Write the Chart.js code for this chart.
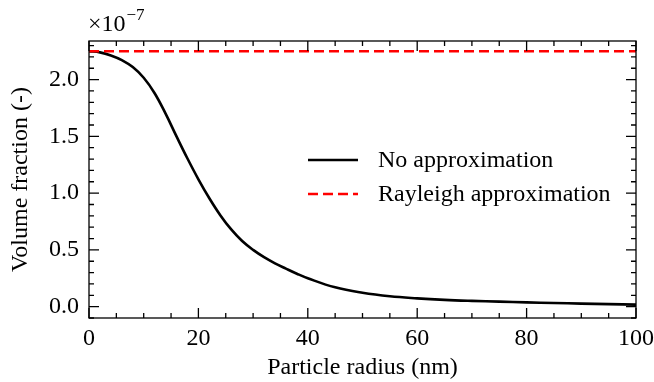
<!DOCTYPE html>
<html>
<head>
<meta charset="utf-8">
<script src="https://cdn.jsdelivr.net/npm/chart.js@4.4.1/dist/chart.umd.min.js"></script>
<style>
  html, body { margin: 0; padding: 0; background: #fff; }
  #wrap { width: 654px; height: 382px; }
</style>
</head>
<body>
<div id="wrap"><canvas id="chart" width="654" height="382"></canvas></div>
<script>
// particle radius (nm)
var radius = [0, 2, 4, 6, 8, 10, 12, 14, 16, 18, 20, 22, 24, 26, 28, 30, 32, 34, 36, 38, 40,
              45, 50, 55, 60, 65, 70, 75, 80, 85, 90, 95, 100];
// volume fraction, no approximation (x 1e-7)
var fracExact = [2.25, 2.24, 2.213, 2.172, 2.11, 2.016, 1.88, 1.70, 1.50, 1.305, 1.122, 0.955, 0.806,
                 0.68, 0.578, 0.50, 0.436, 0.382, 0.335, 0.29, 0.25,
                 0.17, 0.122, 0.091, 0.073, 0.060, 0.051, 0.044, 0.038, 0.032, 0.027, 0.022, 0.018];
// Rayleigh approximation (x 1e-7), flat
var rayleighRadius = [0, 100];
var fracRayleigh = [2.25, 2.25];

var xTicks = [0, 20, 40, 60, 80, 100];
var yTicks = [0.0, 0.5, 1.0, 1.5, 2.0];
var SCALE = 1e-7;

var FONT = "'Liberation Serif', 'DejaVu Serif', serif";

function pts(xs, ys) {
  return xs.map(function (x, i) { return { x: x, y: ys[i] * SCALE }; });
}

// inward ticks on all four sides + frame + custom legend + offset text
var decorations = {
  id: "decorations",
  afterDraw: function (chart) {
    var ctx = chart.ctx;
    var a = chart.chartArea;
    var sx = chart.scales.x, sy = chart.scales.y;
    ctx.save();
    ctx.strokeStyle = "#000";
    ctx.lineWidth = 1.3;

    function xtick(v, len) {
      var px = sx.getPixelForValue(v);
      ctx.beginPath();
      ctx.moveTo(px, a.bottom); ctx.lineTo(px, a.bottom - len);
      ctx.moveTo(px, a.top); ctx.lineTo(px, a.top + len);
      ctx.stroke();
    }
    function ytick(v, len) {
      var py = sy.getPixelForValue(v);
      ctx.beginPath();
      ctx.moveTo(a.left, py); ctx.lineTo(a.left + len, py);
      ctx.moveTo(a.right, py); ctx.lineTo(a.right - len, py);
      ctx.stroke();
    }
    for (var m = 0; m <= 100; m += 5) {
      xtick(m, m % 20 === 0 ? 10 : 5);
    }
    for (var k = -1; k <= 23; k++) {
      ytick(k / 10 * SCALE, k % 5 === 0 ? 10 : 5);
    }
    ctx.strokeRect(a.left, a.top, a.right - a.left, a.bottom - a.top);

    // offset text  x10^-7
    ctx.fillStyle = "#000";
    ctx.textBaseline = "alphabetic";
    ctx.textAlign = "left";
    ctx.font = "24px " + FONT;
    ctx.fillText("\u00d710", a.left - 1, 31);
    var w = ctx.measureText("\u00d710").width;
    ctx.font = "17px " + FONT;
    ctx.fillText("\u22127", a.left - 1 + w + 1, 20);

    // legend
    var lx = 308, ly = [160, 194];
    ctx.font = "24px " + FONT;
    ctx.textBaseline = "middle";
    chart.data.datasets.forEach(function (ds, i) {
      ctx.beginPath();
      ctx.strokeStyle = ds.borderColor;
      ctx.lineWidth = ds.borderWidth;
      ctx.setLineDash(ds.borderDash || []);
      ctx.moveTo(lx, ly[i]); ctx.lineTo(lx + 50, ly[i]);
      ctx.stroke();
      ctx.setLineDash([]);
      ctx.fillText(ds.label, lx + 70, ly[i] + 1);
    });
    ctx.restore();
  }
};

new Chart(document.getElementById("chart").getContext("2d"), {
  type: "line",
  data: {
    datasets: [
      {
        label: "No approximation",
        data: pts(radius, fracExact),
        borderColor: "#000000",
        borderWidth: 2.6,
        pointRadius: 0,
        tension: 0.4,
        order: 2
      },
      {
        label: "Rayleigh approximation",
        data: pts(rayleighRadius, fracRayleigh),
        borderColor: "#ff0000",
        borderWidth: 2.6,
        borderDash: [10, 5],
        pointRadius: 0,
        order: 1
      }
    ]
  },
  options: {
    responsive: false,
    animation: false,
    layout: { padding: { top: 41, right: 0, left: 0, bottom: 0 } },
    plugins: { legend: { display: false }, tooltip: { enabled: false } },
    scales: {
      x: {
        type: "linear",
        min: 0, max: 100,
        afterBuildTicks: function (s) { s.ticks = xTicks.map(function (v) { return { value: v }; }); },
        afterFit: function (s) { s.height = 64; s.paddingRight = 18; },
        grid: { display: false, drawTicks: false },
        border: { display: false },
        ticks: { color: "#000", font: { family: FONT, size: 24 }, padding: 6, maxRotation: 0,
                 callback: function (v) { return String(v); } },
        title: { display: true, text: "Particle radius (nm)", color: "#000",
                 font: { family: FONT, size: 24 }, padding: { top: 0, bottom: 0 } }
      },
      y: {
        type: "linear",
        min: -0.1 * SCALE, max: 2.34 * SCALE,
        afterBuildTicks: function (s) { s.ticks = yTicks.map(function (v) { return { value: v * SCALE }; }); },
        afterFit: function (s) { s.width = 89; },
        grid: { display: false, drawTicks: false },
        border: { display: false },
        ticks: { color: "#000", font: { family: FONT, size: 24 }, padding: 10,
                 callback: function (v) { return (v / SCALE).toFixed(1); } },
        title: { display: true, text: "Volume fraction (-)", color: "#000",
                 font: { family: FONT, size: 24 }, padding: { top: 6, bottom: 0 } }
      }
    }
  },
  plugins: [decorations]
});
</script>
</body>
</html>
